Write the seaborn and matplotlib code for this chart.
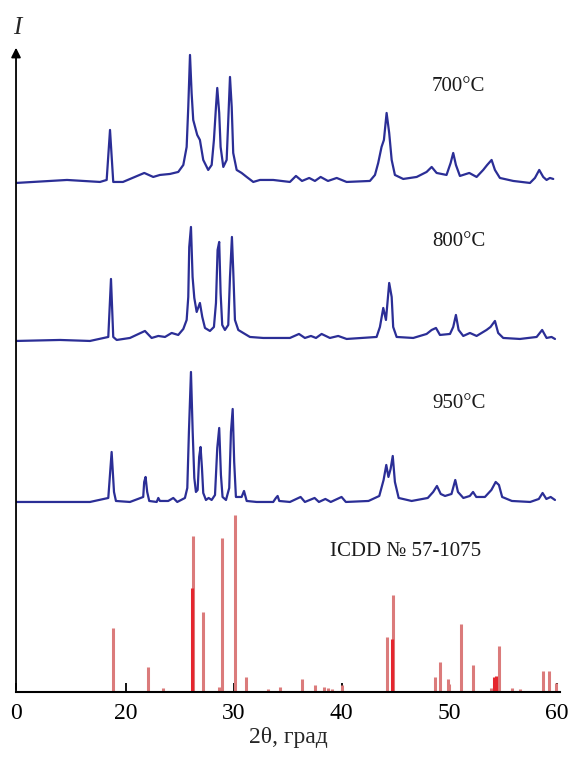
import numpy as np
import pandas as pd
import matplotlib
matplotlib.use("Agg")
import matplotlib.pyplot as plt
import seaborn as sns

# 2theta (deg) and intensity above own baseline
two_theta_700 = [9.80, 11.37, 14.53, 17.59, 18.21, 18.52, 18.82, 19.72, 21.70, 22.53,
                 23.15, 24.08, 24.85, 25.32, 25.63, 25.78, 25.94, 26.09, 26.24, 26.61,
                 26.86, 27.17, 27.63, 27.95, 28.16, 28.35, 28.47, 28.65, 28.78, 29.03,
                 29.34, 29.48, 29.65, 29.81, 29.95, 30.27, 30.73, 31.20, 31.81, 32.43,
                 33.66, 35.21, 35.77, 36.33, 37.00, 37.53, 38.06, 38.74, 39.55, 40.47,
                 42.63, 43.10, 43.40, 43.71, 43.93, 44.18, 44.42, 44.65, 44.95, 45.72,
                 46.97, 47.89, 48.36, 48.82, 49.74, 50.12, 50.36, 50.61, 50.98, 51.85,
                 52.53, 53.14, 53.51, 53.92, 54.23, 54.69, 55.93, 57.48, 57.94, 58.34,
                 58.71, 59.02, 59.33, 59.64]
int_700 = [-1, 0, 2, 0, 2, 52, 0, 0, 9, 5,
           7, 8, 10, 17, 35, 75, 127, 89, 62, 47,
           42, 22, 12, 17, 42, 75, 94, 69, 35, 15,
           22, 59, 105, 75, 29, 12, 9, 5, 0, 2,
           2, 0, 6, 1, 4, 1, 5, 1, 4, 0,
           1, 7, 19, 35, 42, 69, 49, 22, 7, 3,
           5, 10, 15, 9, 7, 19, 29, 17, 6, 9,
           5, 12, 17, 22, 12, 4, 1, -1, 4, 12,
           5, 2, 4, 3]

two_theta_800 = [9.80, 13.88, 16.66, 18.36, 18.61, 18.82, 19.14, 20.37, 21.76, 22.38,
                 23.00, 23.62, 24.24, 24.85, 25.32, 25.63, 25.78, 25.87, 26.03, 26.18,
                 26.34, 26.56, 26.86, 27.08, 27.33, 27.79, 28.16, 28.35, 28.50, 28.65,
                 28.78, 28.93, 29.18, 29.49, 29.65, 29.83, 29.95, 30.11, 30.42, 30.88,
                 31.50, 32.73, 33.98, 35.21, 36.05, 36.60, 37.16, 37.63, 38.15, 38.92,
                 39.69, 40.47, 43.25, 43.56, 43.87, 44.12, 44.42, 44.65, 44.79, 45.11,
                 46.65, 47.89, 48.36, 48.76, 49.13, 50.06, 50.36, 50.61, 50.86, 51.29,
                 51.91, 52.53, 53.45, 53.82, 54.23, 54.53, 55.00, 56.55, 58.10, 58.61,
                 59.02, 59.48, 59.80]
int_800 = [-3, -2, -3, 1, 59, 1, -2, 0, 7, 0,
           2, 1, 5, 3, 9, 18, 41, 91, 111, 61,
           40, 26, 35, 21, 10, 7, 11, 35, 88, 96,
           45, 13, 8, 13, 61, 101, 68, 18, 8, 5,
           1, 0, 0, 0, 4, 0, 2, 0, 4, 0,
           2, -1, 1, 11, 30, 18, 55, 41, 11, 1,
           0, 4, 8, 10, 3, 4, 11, 23, 8, 2,
           5, 2, 8, 11, 17, 5, 0, -1, 1, 8,
           0, 1, -1]

two_theta_950 = [9.80, 13.88, 16.66, 18.36, 18.67, 18.89, 19.07, 20.37, 21.60, 21.69,
                 21.82, 21.97, 22.16, 22.85, 23.00, 23.15, 23.92, 24.39, 24.76, 25.47,
                 25.69, 25.84, 26.03, 26.19, 26.34, 26.49, 26.65, 26.79, 26.92, 27.05,
                 27.17, 27.42, 27.67, 27.95, 28.26, 28.47, 28.65, 28.81, 28.96, 29.28,
                 29.58, 29.74, 29.90, 30.04, 30.20, 30.73, 30.95, 31.20, 32.12, 33.66,
                 33.91, 34.07, 34.22, 35.21, 36.20, 36.60, 37.50, 37.90, 38.50, 39.00,
                 40.00, 40.40, 42.50, 43.50, 43.90, 44.15, 44.35, 44.55, 44.75, 44.95,
                 45.30, 46.50, 48.00, 48.50, 48.85, 49.20, 49.60, 50.20, 50.55, 50.80,
                 51.30, 51.90, 52.20, 52.50, 53.30, 53.90, 54.30, 54.60, 54.90, 55.80,
                 57.50, 58.30, 58.65, 59.00, 59.40, 59.80]
int_950 = [0, 0, 0, 4, 50, 10, 1, 0, 5, 20,
           25, 10, 1, 0, 4, 1, 1, 4, 0, 4,
           14, 70, 130, 70, 24, 10, 12, 45, 55, 34,
           9, 2, 4, 2, 7, 54, 74, 27, 5, 2,
           14, 70, 93, 40, 5, 5, 11, 1, 0, 0,
           4, 6, 1, 0, 5, 0, 4, 0, 3, 0,
           5, 0, 1, 6, 22, 37, 25, 33, 46, 20,
           4, 1, 4, 10, 16, 8, 6, 8, 22, 10,
           4, 6, 10, 5, 5, 12, 20, 17, 5, 1,
           0, 3, 9, 3, 5, 2]

# ICDD 57-1075 reference lines
icdd_pos = [18.82, 22.07, 23.46, 26.09, 26.24, 27.17, 28.63, 28.94, 30.11, 31.13,
            33.20, 34.29, 36.35, 37.56, 38.40, 38.71, 39.14, 40.07, 44.18, 44.70,
            44.80, 48.66, 49.13, 49.90, 50.00, 51.05, 52.22, 53.86, 54.17, 54.32,
            54.60, 55.80, 56.55, 58.70, 59.24, 59.86]
icdd_int = [64, 25, 4, 104, 156, 80, 5, 154, 177, 15,
            3, 5, 13, 7, 5, 4, 3, 7, 55, 53,
            97, 15, 30, 13, 8, 68, 27, 4, 15, 16,
            46, 4, 3, 21, 21, 9]
icdd_bright = [26.09, 44.70, 54.17, 54.32]

labels = ["700°C", "800°C", "950°C"]

sns.set_theme(style="white")
plt.rcParams["font.family"] = ["Liberation Serif", "DejaVu Serif"]

fig = plt.figure(figsize=(5.7, 7.58), dpi=100)
ax = fig.add_axes([0.0281, 0.0871, 0.955, 0.8536])

blue = "#2B2E96"
offsets = [510, 354, 190]
series = [(two_theta_700, int_700), (two_theta_800, int_800), (two_theta_950, int_950)]
label_y = [605, 450, 288]
for (tt, inten), off, lab, ly in zip(series, offsets, labels, label_y):
    df = pd.DataFrame({"two_theta": tt, "I": np.array(inten) + off})
    sns.lineplot(data=df, x="two_theta", y="I", ax=ax, color=blue, lw=1.6, sort=False)
    ax.text(48.4, ly, lab, fontsize=15, ha="left", va="center", color="#1a1a1a")

# pale lines first, the brighter red ones over them
pale = [(p, h) for p, h in zip(icdd_pos, icdd_int) if p not in icdd_bright]
bright = [(p, h) for p, h in zip(icdd_pos, icdd_int) if p in icdd_bright]
ax.vlines([p for p, _ in pale], 0, [h for _, h in pale], colors="#DB7B7B", lw=2.2, zorder=2)
ax.vlines([p for p, _ in bright], 0, [h for _, h in bright], colors="#E5262E", lw=2.2, zorder=3)
ax.text(38.92, 140, "ICDD № 57-1075", fontsize=15, ha="left", va="center", color="#1a1a1a")

ax.set_xlim(9.8, 60.3)
ax.set_ylim(0, 647)
ax.set_xticks([9.8, 20, 30, 40, 50, 60])
ax.set_xticklabels(["0", "20", "30", "40", "50", "60"])
ax.set_yticks([])
ax.tick_params(axis="x", direction="in", length=6.5, width=1.3, colors="black",
               labelsize=17, pad=8, bottom=True)
ax.set_xlabel("2θ, град", fontsize=17, labelpad=2)
ax.set_ylabel("")
for s in ["top", "right", "left"]:
    ax.spines[s].set_visible(False)
ax.spines["bottom"].set_color("black")
ax.spines["bottom"].set_linewidth(1.5)
ax.spines["bottom"].set_zorder(4)

ax.annotate("", xy=(9.8, 647), xytext=(9.8, 0), xycoords="data",
            arrowprops=dict(arrowstyle="-|>", color="black", lw=1.3, mutation_scale=14),
            annotation_clip=False)
fig.text(17 / 570, 1 - 28 / 758, "I", fontsize=18, style="italic", ha="center", va="center")

fig.savefig("out.png", dpi=100)
